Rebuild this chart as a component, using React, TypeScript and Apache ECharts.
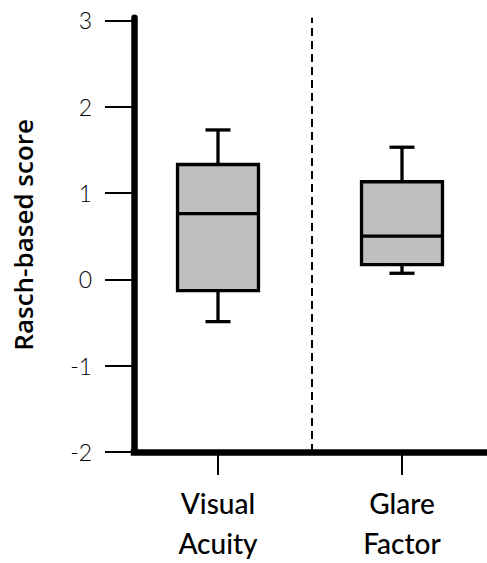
import React, { useEffect, useRef } from "react";
import * as echarts from "echarts";

const categories = ["Visual\nAcuity", "Glare\nFactor"];
const positions = [1, 2];
const whiskerLow = [-0.49, 0.07];
const quartile1 = [-0.13, 0.17];
const medians = [0.76, 0.5];
const quartile3 = [1.33, 1.13];
const whiskerHigh = [1.73, 1.53];
const yTicks = [-2, -1, 0, 1, 2, 3];
const dividerAt = 1.51;

const FONT = "Lato, 'Open Sans', sans-serif";

export default function App() {
  const ref = useRef<HTMLDivElement>(null);
  useEffect(() => {
    if (!ref.current) return;
    const chart = echarts.init(ref.current, null, { renderer: "svg" });
    const data = positions.map((p, i) => [
      p,
      whiskerLow[i],
      quartile1[i],
      medians[i],
      quartile3[i],
      whiskerHigh[i],
    ]);
    const boxW = 0.44;
    const capW = 0.136;
    const stroke = "#000";
    chart.setOption({
      animation: false,
      grid: { left: 134, right: 0, top: 17.7, bottom: 109.7 },
      xAxis: {
        type: "value",
        min: 0.5435,
        max: 2.462,
        splitLine: { show: false },
        axisLine: {
          show: true,
          onZero: false,
          lineStyle: { color: "#000", width: 6.5, cap: "square" },
        },
        axisTick: {
          show: true,
          customValues: positions,
          length: 23,
          lineStyle: { color: "#000", width: 2 },
        },
        axisLabel: {
          show: true,
          customValues: positions,
          formatter: (v: number) => {
            const i = positions.indexOf(v);
            return i >= 0 ? categories[i] : "";
          },
          margin: 31,
          fontFamily: FONT,
          fontSize: 28,
          lineHeight: 40,
          color: "#000",
          fontWeight: 500,
        },
      },
      yAxis: {
        type: "value",
        min: -2,
        max: 3.03,
        splitLine: { show: false },
        axisLine: {
          show: true,
          onZero: false,
          lineStyle: { color: "#000", width: 6.5, cap: "round" },
        },
        axisTick: {
          show: true,
          customValues: yTicks,
          length: 29,
          lineStyle: { color: "#000", width: 2 },
        },
        axisLabel: {
          show: true,
          customValues: yTicks,
          margin: 42,
          fontFamily: FONT,
          fontSize: 23,
          fontWeight: 300,
          color: "#000",
        },
        name: "Rasch-based score",
        nameLocation: "middle",
        nameGap: 98,
        nameTextStyle: {
          fontFamily: "'Open Sans', Lato, sans-serif",
          fontSize: 26,
          fontWeight: 600,
          color: "#000",
        },
      },
      series: [
        {
          type: "custom",
          data,
          encode: { x: 0, y: [1, 2, 3, 4, 5] },
          renderItem: (params: any, api: any) => {
            const x = api.value(0);
            const lo = api.value(1);
            const q1 = api.value(2);
            const med = api.value(3);
            const q3 = api.value(4);
            const hi = api.value(5);
            const pLo = api.coord([x, lo]);
            const pQ1 = api.coord([x, q1]);
            const pMed = api.coord([x, med]);
            const pQ3 = api.coord([x, q3]);
            const pHi = api.coord([x, hi]);
            const halfBox = api.size([boxW, 0])[0] / 2;
            const halfCap = api.size([capW, 0])[0] / 2;
            const cx = pMed[0];
            const ls = { stroke, lineWidth: 3.3, fill: null };
            return {
              type: "group",
              children: [
                {
                  type: "line",
                  shape: { x1: cx, y1: pQ3[1], x2: cx, y2: pHi[1] },
                  style: ls,
                },
                {
                  type: "line",
                  shape: { x1: cx - halfCap, y1: pHi[1], x2: cx + halfCap, y2: pHi[1] },
                  style: ls,
                },
                {
                  type: "line",
                  shape: { x1: cx, y1: pQ1[1], x2: cx, y2: pLo[1] },
                  style: ls,
                },
                {
                  type: "line",
                  shape: { x1: cx - halfCap, y1: pLo[1], x2: cx + halfCap, y2: pLo[1] },
                  style: ls,
                },
                {
                  type: "rect",
                  shape: {
                    x: cx - halfBox,
                    y: pQ3[1],
                    width: halfBox * 2,
                    height: pQ1[1] - pQ3[1],
                  },
                  style: { fill: "#bebfc1", stroke, lineWidth: 3.3 },
                },
                {
                  type: "line",
                  shape: { x1: cx - halfBox, y1: pMed[1], x2: cx + halfBox, y2: pMed[1] },
                  style: ls,
                },
              ],
            };
          },
          markLine: {
            silent: true,
            symbol: "none",
            label: { show: false },
            lineStyle: { color: "#000", width: 2, type: [8, 5] },
            data: [{ xAxis: dividerAt }],
          },
        },
      ],
    });
    return () => chart.dispose();
  }, []);
  return (
    <div
      ref={ref}
      style={{ position: "fixed", left: 0, top: 0, width: 487, height: 563, background: "#fff" }}
    />
  );
}
